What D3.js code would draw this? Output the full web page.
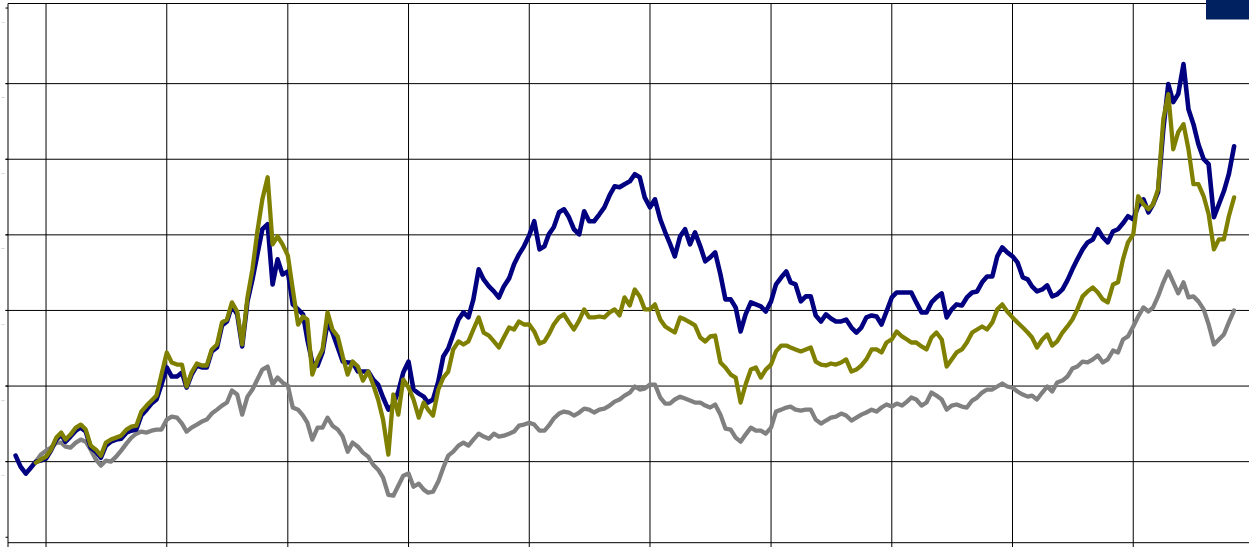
<!DOCTYPE html>
<html>
<head>
<meta charset="utf-8">
<script src="https://cdn.jsdelivr.net/npm/d3@7/dist/d3.min.js"></script>
<style>
    html, body { margin: 0; padding: 0; background: #fff; }
    svg { display: block; }
    .grid line, .axis line { stroke: #000; stroke-width: 1; }
    .tick-label { font-family: "Liberation Sans", Arial, sans-serif; font-size: 2px; fill: #999; }
    .series { fill: none; stroke-linejoin: round; stroke-linecap: round; }
</style>
</head>
<body>
<svg id="chart" width="1249" height="547"></svg>
<script>
// twice-monthly observations (1st and 16th), Oct 2006 .. Nov 2016, index start = 100
const months = d3.timeMonth.range(new Date(2006, 9, 1), new Date(2016, 10, 2));
const dates = months.flatMap(m => [m, d3.timeDay.offset(m, 15)]).slice(0, -1);

const gridYears = [2007, 2008, 2009, 2010, 2011, 2012, 2013, 2014, 2015, 2016];
const yTicks = [50, 100, 150, 200, 250, 300, 350, 400];
const yLabels = [100, 150, 200, 250, 300, 350, 400];
const yGrid = [100, 150, 200, 250, 300, 350];

const seriesNavy = [
    104.0, 96.7, 92.1, 96.0, 100.0, 100.7, 102.0, 107.3, 114.6, 117.9,
    113.2, 116.6, 120.5, 122.5, 119.9, 109.3, 106.6, 102.6, 110.6, 113.2,
    114.6, 115.2, 119.2, 120.5, 121.2, 130.5, 134.4, 138.4, 141.1, 151.0,
    162.3, 156.3, 156.3, 158.9, 149.0, 157.6, 163.6, 162.3, 162.3, 172.9,
    175.5, 190.1, 192.7, 203.3, 197.4, 176.2, 206.0, 220.5, 237.1, 253.7,
    257.0, 217.2, 233.8, 223.8, 225.8, 204.0, 200.7, 197.4, 180.8, 165.6,
    163.6, 172.2, 192.1, 185.4, 175.5, 166.2, 165.6, 165.6, 159.6, 159.6,
    159.6, 154.3, 151.0, 142.4, 134.4, 137.8, 146.4, 158.9, 166.2, 147.7,
    145.0, 143.0, 139.1, 141.1, 153.0, 169.5, 174.8, 184.1, 194.0, 198.7,
    195.4, 207.3, 227.2, 220.5, 215.9, 212.6, 208.6, 215.9, 221.2, 230.5,
    237.1, 242.4, 249.7, 259.0, 240.4, 242.4, 250.3, 255.0, 264.9, 266.9,
    261.6, 253.7, 250.3, 265.6, 259.0, 259.0, 263.6, 268.2, 276.2, 282.1,
    281.5, 283.5, 285.4, 290.1, 288.1, 274.8, 268.2, 273.5, 260.3, 251.7,
    244.4, 235.8, 249.0, 253.7, 243.7, 251.7, 242.4, 232.5, 235.1, 238.4,
    223.8, 207.3, 207.3, 202.0, 186.1, 197.4, 205.3, 204.0, 202.7, 199.3,
    206.0, 217.2, 221.9, 225.8, 218.6, 217.2, 206.0, 209.3, 209.3, 196.7,
    192.7, 197.4, 194.7, 192.7, 192.7, 194.0, 188.7, 185.4, 188.7, 195.4,
    196.7, 196.0, 190.7, 199.3, 208.6, 211.9, 211.9, 211.9, 211.9, 205.3,
    198.7, 198.7, 205.3, 208.6, 211.3, 195.4, 200.7, 204.0, 203.3, 208.6,
    211.9, 212.6, 218.6, 222.5, 222.5, 235.8, 241.7, 238.4, 235.8, 231.8,
    221.9, 220.5, 215.9, 212.6, 213.9, 216.6, 209.3, 210.6, 213.9, 219.9,
    227.2, 233.8, 240.4, 245.0, 247.0, 253.7, 248.4, 245.0, 252.3, 253.7,
    257.6, 262.3, 260.3, 268.9, 273.5, 264.9, 270.2, 278.2, 319.9, 349.7,
    337.8, 343.1, 362.9, 333.1, 323.2, 309.9, 300.0, 296.7, 261.6, 270.2,
    278.8, 290.1, 308.6
];

const seriesOlive = [
    null, null, null, null, 99.3, 101.3, 103.3, 107.9, 115.9, 119.2,
    114.6, 117.9, 122.5, 124.5, 121.2, 110.6, 107.9, 104.0, 112.6, 114.6,
    115.9, 117.2, 121.2, 123.2, 123.8, 133.1, 137.1, 140.4, 143.7, 157.6,
    172.2, 165.6, 164.2, 164.2, 149.7, 158.9, 164.9, 163.6, 163.6, 174.2,
    177.5, 192.1, 194.0, 205.3, 199.3, 177.5, 208.6, 227.2, 252.3, 273.5,
    288.1, 243.7, 249.0, 243.7, 236.4, 213.9, 190.7, 196.0, 194.0, 157.6,
    167.6, 174.2, 198.7, 187.4, 182.8, 169.5, 157.6, 166.2, 162.9, 153.6,
    159.6, 151.0, 141.1, 127.8, 104.6, 144.4, 131.1, 154.3, 149.0, 141.1,
    129.1, 139.1, 134.4, 130.5, 147.7, 155.6, 159.6, 174.2, 179.5, 177.5,
    179.5, 187.4, 195.4, 185.4, 183.4, 179.5, 175.5, 182.1, 188.7, 187.4,
    192.7, 190.7, 190.7, 186.1, 178.1, 179.5, 184.1, 190.7, 195.4, 197.4,
    192.1, 187.4, 193.4, 200.7, 195.4, 195.4, 196.0, 195.4, 198.7, 200.7,
    196.7, 208.6, 203.3, 213.9, 209.3, 200.7, 200.7, 204.0, 194.0, 189.4,
    187.4, 185.4, 195.4, 194.0, 192.1, 190.1, 182.1, 179.5, 182.8, 183.4,
    165.6, 162.3, 157.6, 155.6, 139.1, 151.0, 160.9, 162.3, 155.6, 160.9,
    164.2, 172.9, 176.8, 176.8, 175.5, 174.2, 172.9, 174.2, 175.5, 166.2,
    164.2, 163.6, 164.9, 164.2, 165.6, 167.6, 159.6, 160.9, 163.6, 167.6,
    174.2, 174.2, 172.2, 178.8, 180.8, 186.1, 182.8, 180.8, 178.8, 178.8,
    176.2, 174.2, 182.1, 185.4, 180.8, 162.9, 167.6, 172.2, 174.2, 178.8,
    185.4, 187.4, 189.4, 187.4, 192.1, 200.7, 204.0, 199.3, 195.4, 192.1,
    188.7, 185.4, 182.1, 175.5, 180.8, 184.1, 176.8, 179.5, 185.4, 189.4,
    194.0, 200.7, 209.3, 212.6, 215.2, 211.9, 207.3, 205.3, 217.2, 218.6,
    233.8, 245.0, 250.3, 275.5, 270.2, 266.9, 270.2, 280.1, 326.5, 343.1,
    306.6, 317.9, 323.2, 306.6, 283.5, 283.5, 275.5, 263.6, 240.4, 247.0,
    247.0, 262.3, 274.8
];

const seriesGrey = [
    null, null, null, null, 100.0, 104.6, 107.3, 109.3, 112.6, 112.6,
    109.9, 109.3, 112.6, 114.6, 113.2, 107.9, 101.3, 97.4, 100.7, 100.0,
    103.3, 107.3, 111.9, 115.9, 118.5, 119.9, 119.2, 120.5, 121.2, 121.2,
    127.8, 129.8, 129.1, 125.2, 119.9, 122.5, 124.5, 126.5, 127.8, 131.8,
    134.4, 137.1, 139.1, 147.0, 144.4, 131.1, 143.0, 147.7, 154.3, 160.9,
    162.9, 151.0, 155.6, 152.3, 150.3, 135.8, 134.4, 130.5, 125.8, 114.6,
    122.5, 122.5, 129.1, 123.8, 121.2, 116.6, 106.6, 112.6, 109.9, 106.0,
    103.3, 98.0, 94.7, 89.4, 78.1, 77.5, 84.1, 90.7, 92.1, 83.4,
    85.4, 81.5, 79.5, 80.1, 86.8, 96.0, 104.0, 106.6, 110.6, 112.6,
    110.6, 114.6, 118.5, 116.6, 115.2, 118.5, 116.6, 117.2, 118.5, 119.9,
    123.8, 124.5, 125.8, 124.5, 120.5, 120.5, 123.8, 128.5, 131.8, 133.1,
    132.5, 130.5, 132.5, 135.1, 134.4, 132.5, 134.4, 135.1, 137.1, 139.7,
    141.1, 143.7, 145.7, 149.7, 147.7, 148.3, 151.0, 151.0, 142.4, 138.4,
    138.4, 141.1, 143.0, 141.7, 140.4, 139.1, 139.1, 137.1, 135.8, 137.8,
    131.1, 121.9, 121.2, 115.9, 113.2, 117.9, 122.5, 120.5, 120.5, 118.5,
    122.5, 133.1, 134.4, 135.8, 136.4, 134.4, 133.8, 134.4, 134.4, 127.8,
    125.2, 127.2, 129.1, 129.8, 131.8, 130.5, 127.2, 129.1, 131.1, 132.5,
    134.4, 133.1, 135.8, 137.8, 136.4, 138.4, 137.1, 139.7, 142.4, 141.1,
    137.1, 139.1, 145.7, 143.7, 141.1, 134.4, 137.1, 137.8, 136.4, 135.8,
    140.4, 142.4, 145.7, 147.7, 147.7, 149.7, 151.7, 149.7, 149.0, 146.4,
    144.4, 143.0, 143.7, 141.1, 145.7, 149.7, 146.4, 152.3, 153.6, 156.3,
    161.6, 162.9, 166.2, 165.6, 167.6, 170.2, 165.6, 167.6, 173.5, 172.2,
    180.8, 182.8, 189.4, 196.0, 202.0, 199.3, 202.0, 209.3, 218.6, 225.8,
    218.6, 211.3, 218.6, 208.6, 209.3, 206.0, 200.7, 190.7, 177.5, 180.8,
    184.1, 192.1, 200.0
];

const width = 1249, height = 547;
const plot = { left: 8, right: 1249, top: 3.5, bottom: 542.7 };

const svg = d3.select('#chart');

const x = d3.scaleTime()
    .domain([new Date(2006, 8, 8), new Date(2016, 11, 16)])
    .range([plot.left, plot.right]);

const y = d3.scaleLinear()
    .domain([46.4, 403.0])
    .range([plot.bottom, plot.top]);

// grid
const grid = svg.append('g').attr('class', 'grid');

grid.selectAll('.hgrid')
    .data(yGrid)
    .enter().append('line')
    .attr('class', 'hgrid')
    .attr('x1', plot.left - 2.5).attr('x2', plot.right)
    .attr('y1', d => y(d)).attr('y2', d => y(d));

grid.selectAll('.vgrid')
    .data(gridYears)
    .enter().append('line')
    .attr('class', 'vgrid')
    .attr('x1', d => x(new Date(d, 0, 1))).attr('x2', d => x(new Date(d, 0, 1)))
    .attr('y1', plot.top).attr('y2', height);

// axes frame
const axis = svg.append('g').attr('class', 'axis');
axis.append('line')
    .attr('x1', plot.left).attr('x2', plot.right)
    .attr('y1', plot.top).attr('y2', plot.top);
axis.append('line')
    .attr('x1', plot.left).attr('x2', plot.right)
    .attr('y1', plot.bottom).attr('y2', plot.bottom);
axis.append('line')
    .attr('x1', plot.left).attr('x2', plot.left)
    .attr('y1', plot.top).attr('y2', height);

axis.selectAll('.ytick')
    .data(yTicks)
    .enter().append('line')
    .attr('class', 'ytick')
    .attr('x1', plot.left - 2.5).attr('x2', plot.left)
    .attr('y1', d => y(d)).attr('y2', d => y(d));

svg.append('g').selectAll('text')
    .data(yLabels)
    .enter().append('text')
    .attr('class', 'tick-label')
    .attr('x', 3)
    .attr('y', d => y(d) + 14.5)
    .attr('text-anchor', 'middle')
    .text(d => d);

// series
const line = d3.line()
    .defined(d => d != null)
    .x((d, i) => x(dates[i]))
    .y(d => y(d));

const series = [
    { values: seriesGrey, color: '#808080', width: 4.3 },
    { values: seriesNavy, color: '#000080', width: 4.6 },
    { values: seriesOlive, color: '#808000', width: 4.3 }
];

svg.append('g').selectAll('path')
    .data(series)
    .enter().append('path')
    .attr('class', 'series')
    .attr('d', d => line(d.values))
    .attr('stroke', d => d.color)
    .attr('stroke-width', d => d.width);

// corner legend swatch
svg.append('rect')
    .attr('x', 1206).attr('y', 0)
    .attr('width', width - 1206).attr('height', 19.5)
    .attr('fill', '#00215f');
</script>
</body>
</html>
